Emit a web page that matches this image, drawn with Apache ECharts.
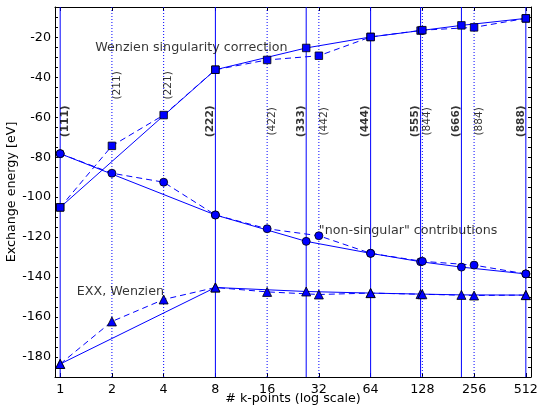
<!DOCTYPE html>
<html>
<head>
<meta charset="utf-8">
<script src="https://cdn.jsdelivr.net/npm/echarts@6/dist/echarts.min.js"></script>
<style>html,body{margin:0;padding:0;background:#fff;}#c{width:540px;height:408px;}</style>
</head>
<body>
<div id="c"></div>
<script>
// ---- data ----
const kCubic = [1, 8, 27, 64, 125, 216, 512];
const kDoubling = [1, 2, 4, 8, 16, 32, 64, 128, 256, 512];

const corrCubic = [-105.1, -36.2, -25.3, -19.8, -16.6, -14.0, -10.5];
const corrDoubling = [-105.1, -74.3, -58.9, -36.2, -31.3, -29.2, -19.8, -16.4, -15.0, -10.5];

const nonsingCubic = [-78.2, -108.9, -122.1, -128.1, -132.3, -135.0, -138.4];
const nonsingDoubling = [-78.2, -88.0, -92.5, -108.9, -115.8, -119.3, -128.1, -132.1, -134.0, -138.4];

const exxCubic = [-183.5, -145.2, -147.2, -148.0, -148.5, -148.9, -149.0];
const exxDoubling = [-183.5, -162.2, -151.2, -145.2, -147.4, -148.7, -148.0, -148.6, -149.2, -149.0];

const solidLinesK = [1, 8, 27, 64, 125, 216, 512];
const dottedLinesK = [2, 4, 16, 32, 128, 256];

const meshK = [1, 2, 4, 8, 16, 27, 32, 64, 125, 128, 216, 256, 512];
const meshText = ['(111)', '(211)', '(221)', '(222)', '(422)', '(333)', '(442)', '(444)', '(555)', '(844)', '(666)', '(884)', '(888)'];
const meshY = [-62, -44, -44, -62, -62, -62, -62, -62, -62, -62, -62, -62, -62];

const annotK = [1.6, 32, 1.25];
const annotY = [-25, -116.8, -147.4];
const annotText = ['Wenzien singularity correction', '"non-singular" contributions', 'EXX, Wenzien'];

const yLabelValues = [-180, -160, -140, -120, -100, -80, -60, -40, -20];
const xMin = 0.933, xMax = 548.7, yMin = -190, yMax = -4.8;

// ---- chart ----
const font = 'DejaVu Sans';
const fs = 12.7;
const blue = '#0000ff';
const zip = (xs, ys) => xs.map((x, i) => [x, ys[i]]);

function lineSeries(xs, ys, symbol, dashed, size) {
  return {
    type: 'line', xAxisIndex: 0, yAxisIndex: 0, z: 5,
    data: zip(xs, ys),
    symbol: symbol, symbolSize: size, showSymbol: true,
    lineStyle: { color: blue, width: 1, type: dashed ? [6, 4] : 'solid' },
    itemStyle: { color: blue, borderColor: '#000', borderWidth: 0.8 },
    animation: false, silent: true
  };
}

function vLine(k, dotted) {
  return {
    type: 'line', xAxisIndex: 0, yAxisIndex: 0, z: 1, silent: true, animation: false,
    data: [[k, yMin], [k, yMax]], symbol: 'none',
    itemStyle: { color: blue },
    lineStyle: { color: blue, width: 1, type: dotted ? [1, 2] : 'solid' }
  };
}

const isCubic = k => solidLinesK.indexOf(k) >= 0;

const yAxisBase = (pos, showLabel) => ({
  type: 'value', position: pos, min: yMin, max: yMax, interval: 5,
  axisLine: { show: true, onZero: false, lineStyle: { color: '#000', width: 1 } },
  axisTick: { show: true, inside: true, length: 3, lineStyle: { color: '#000' } },
  axisLabel: showLabel ? { show: true, customValues: yLabelValues, margin: 4, color: '#000', fontFamily: font, fontSize: fs } : { show: false },
  splitLine: { show: false },
  name: showLabel ? 'Exchange energy [eV]' : '',
  nameLocation: 'middle', nameGap: 37, nameMoveOverlap: false,
  nameTextStyle: { fontFamily: font, fontSize: fs, color: '#000' }
});

const xAxisBase = (pos, showLabel) => ({
  type: 'log', logBase: 2, position: pos, min: xMin, max: xMax,
  axisLine: { show: true, onZero: false, lineStyle: { color: '#000', width: 1 } },
  axisTick: { show: true, inside: true, length: 4, lineStyle: { color: '#000' } },
  axisLabel: showLabel ? {
    show: true, margin: 6, color: '#000', fontFamily: font, fontSize: fs,
    showMinLabel: false, showMaxLabel: false,
    formatter: v => (Math.abs(v - Math.round(v)) < 1e-6 ? String(Math.round(v)) : '')
  } : { show: false },
  splitLine: { show: false },
  name: showLabel ? '# k-points (log scale)' : '',
  nameLocation: 'middle', nameGap: 15, nameMoveOverlap: false,
  nameTextStyle: { fontFamily: font, fontSize: fs, color: '#000' }
});

const option = {
  backgroundColor: '#fff',
  animation: false,
  grid: { left: 55, right: 9, top: 7, bottom: 31, containLabel: false, outerBoundsMode: 'none' },
  xAxis: [xAxisBase('bottom', true), xAxisBase('top', false)],
  yAxis: [yAxisBase('left', true), yAxisBase('right', false)],
  series: [
    ...solidLinesK.map(k => vLine(k, false)),
    ...dottedLinesK.map(k => vLine(k, true)),
    {
      type: 'scatter', xAxisIndex: 0, yAxisIndex: 0, z: 2, silent: true,
      symbolSize: 0,
      data: meshK.map((k, i) => ({
        value: [k, meshY[i]],
        label: {
          show: true, formatter: meshText[i], rotate: 90,
          position: 'inside',
          offset: [0, isCubic(k) && k > 1 ? -5 : 5],
          fontWeight: isCubic(k) ? 'bold' : 'normal',
          fontFamily: font, fontSize: 10.6, color: '#000'
        }
      }))
    },
    {
      type: 'scatter', xAxisIndex: 0, yAxisIndex: 0, z: 6, silent: true,
      symbolSize: 0,
      data: annotK.map((k, i) => ({
        value: [k, annotY[i]],
        label: { show: true, formatter: annotText[i], position: 'right', distance: 0,
                 fontFamily: font, fontSize: fs, color: '#000' }
      }))
    },
    lineSeries(kCubic, corrCubic, 'rect', false, 7.5),
    lineSeries(kDoubling, corrDoubling, 'rect', true, 7.5),
    lineSeries(kCubic, nonsingCubic, 'circle', false, 8),
    lineSeries(kDoubling, nonsingDoubling, 'circle', true, 8),
    lineSeries(kCubic, exxCubic, 'triangle', false, 9),
    lineSeries(kDoubling, exxDoubling, 'triangle', true, 9)
  ]
};

const chart = echarts.init(document.getElementById('c'), null, { renderer: 'canvas' });
chart.setOption(option);
</script>
</body>
</html>
